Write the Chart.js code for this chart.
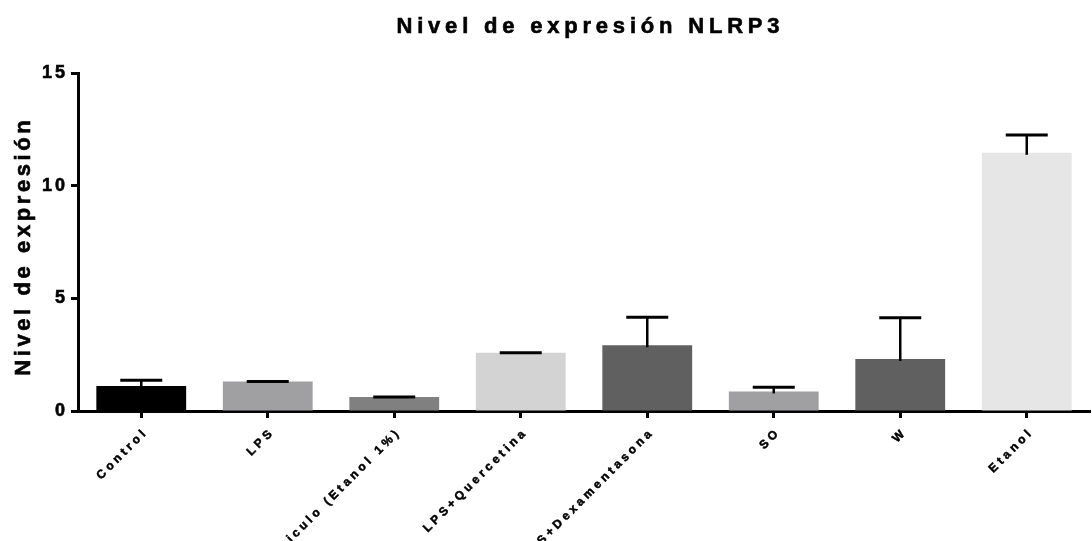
<!DOCTYPE html>
<html lang="es">
<head>
<meta charset="utf-8">
<title>Nivel de expresión NLRP3</title>
<script src="https://cdn.jsdelivr.net/npm/chart.js@4.4.1/dist/chart.umd.min.js"></script>
<style>
  html, body { margin: 0; padding: 0; background: #fff; }
  #wrap { width: 1092px; height: 541px; }
</style>
</head>
<body>
<div id="wrap"><canvas id="c" width="1092" height="541"></canvas></div>
<script>
// Grupos experimentales
const categories = [
  'Control', 'LPS', 'Vehiculo (Etanol 1%)', 'LPS+Quercetina',
  'LPS+Dexamentasona', 'SO', 'W', 'Etanol'
];
// Media del nivel de expresión por grupo
const means = [1.11, 1.31, 0.62, 2.59, 2.92, 0.87, 2.31, 11.46];
// Error superior (SEM)
const sem = [0.25, 0.0, 0.0, 0.0, 1.24, 0.18, 1.83, 0.79];
// Marcas del eje Y
const yTicks = [0, 5, 10, 15];
// Tonos de gris de cada barra
const barColors = ['#000000', '#a0a0a3', '#808080', '#d3d3d3', '#606060', '#a0a0a3', '#606060', '#e6e6e6'];

const titleText = 'Nivel de expresión NLRP3';
const yTitleText = 'Nivel de expresión';
const FONT = '"Liberation Sans", Arial, Helvetica, sans-serif';

// Draws a scale's tick labels with extra letter spacing (and an optional nudge)
function spacedLabels(scale, spacing, dx, dy) {
  if (scale._spacedLabels) return;
  const orig = scale.drawLabels;
  scale.drawLabels = function (area) {
    const ctx = this.ctx;
    ctx.save();
    ctx.letterSpacing = spacing;
    ctx.translate(dx, dy);
    orig.call(this, area);
    ctx.restore();
  };
  scale._spacedLabels = true;
}

// Upper error bars (stem + cap) in black
const errorBars = {
  id: 'errorBars',
  afterDatasetsDraw(chart) {
    const meta = chart.getDatasetMeta(0);
    const y = chart.scales.y;
    const ctx = chart.ctx;
    ctx.save();
    ctx.strokeStyle = '#000';
    ctx.lineCap = 'butt';
    meta.data.forEach((bar, i) => {
      const top = y.getPixelForValue(means[i] + sem[i]);
      const barTop = bar.y;
      if (sem[i] > 0) {
        ctx.lineWidth = 2.5;
        ctx.beginPath();
        ctx.moveTo(bar.x, barTop + 2);
        ctx.lineTo(bar.x, top);
        ctx.stroke();
      }
      ctx.lineWidth = 3;
      ctx.beginPath();
      ctx.moveTo(bar.x - 21, top);
      ctx.lineTo(bar.x + 21, top);
      ctx.stroke();
    });
    ctx.restore();
  }
};

// Chart title and Y axis title with wide letter spacing
const spacedTitles = {
  id: 'spacedTitles',
  afterDraw(chart) {
    const ctx = chart.ctx;
    ctx.save();
    ctx.fillStyle = '#000';
    ctx.strokeStyle = '#000';
    ctx.lineWidth = 0.6;
    ctx.textBaseline = 'alphabetic';
    ctx.textAlign = 'left';

    ctx.font = 'bold 22px ' + FONT;
    ctx.letterSpacing = '4.8px';
    let w = ctx.measureText(titleText).width - 4.8;
    ctx.fillText(titleText, 588 - w / 2, 33);
    ctx.strokeText(titleText, 588 - w / 2, 33);

    ctx.font = 'bold 22px ' + FONT;
    ctx.letterSpacing = '3.6px';
    w = ctx.measureText(yTitleText).width - 3.6;
    ctx.translate(30, 248);
    ctx.rotate(-Math.PI / 2);
    ctx.fillText(yTitleText, -w / 2, 0);
    ctx.strokeText(yTitleText, -w / 2, 0);
    ctx.restore();
  }
};

new Chart(document.getElementById('c'), {
  type: 'bar',
  data: {
    labels: categories,
    datasets: [{
      data: means,
      backgroundColor: barColors,
      borderWidth: 0,
      categoryPercentage: 1.0,
      barPercentage: 0.71
    }]
  },
  options: {
    responsive: false,
    animation: false,
    layout: { padding: { top: 73, right: 2, left: 0, bottom: 0 } },
    plugins: {
      legend: { display: false },
      title: { display: false },
      tooltip: { enabled: false }
    },
    scales: {
      x: {
        offset: true,
        grid: {
          display: true,
          offset: false,
          drawOnChartArea: false,
          drawTicks: true,
          tickLength: 7,
          tickWidth: 3,
          tickColor: '#000'
        },
        border: { display: true, color: '#000', width: 3 },
        ticks: {
          autoSkip: false,
          maxRotation: 45,
          minRotation: 45,
          padding: 3,
          color: '#000',
          textStrokeColor: '#000',
          textStrokeWidth: 0.5,
          font: { family: FONT, size: 12, weight: 'bold' }
        },
        afterFit(scale) {
          scale.height = 130;
          scale.paddingLeft = 0;
          scale.paddingRight = 0;
          spacedLabels(scale, '3.5px', 5, 4);
        }
      },
      y: {
        min: 0,
        max: 15,
        afterBuildTicks(scale) {
          scale.ticks = yTicks.map(v => ({ value: v }));
        },
        grid: {
          display: true,
          drawOnChartArea: false,
          drawTicks: true,
          tickLength: 7,
          tickWidth: 3,
          tickColor: '#000'
        },
        border: { display: true, color: '#000', width: 3 },
        ticks: {
          padding: 3,
          color: '#000',
          textStrokeColor: '#000',
          textStrokeWidth: 0.6,
          font: { family: FONT, size: 18, weight: 'bold' }
        },
        afterFit(scale) {
          scale.width = 78;
          scale.paddingTop = 0;
          scale.paddingBottom = 0;
          spacedLabels(scale, '3px', 0, 0);
        }
      }
    }
  },
  plugins: [errorBars, spacedTitles]
});
</script>
</body>
</html>
